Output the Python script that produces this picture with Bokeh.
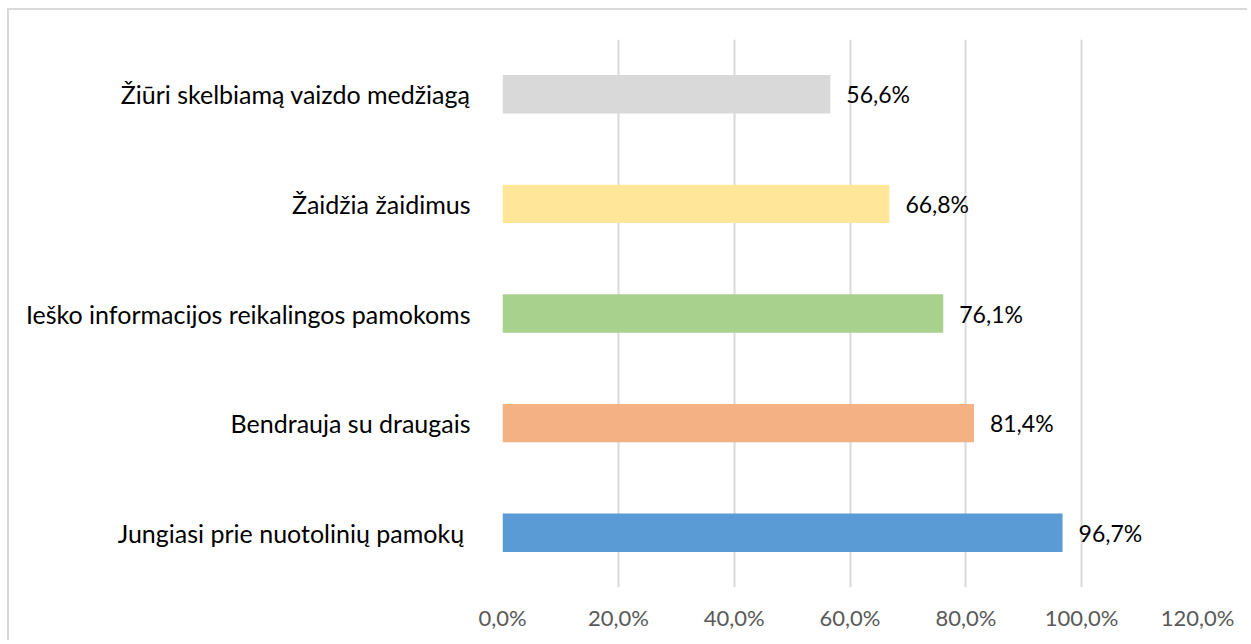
from bokeh.plotting import figure
from bokeh.models import ColumnDataSource, FixedTicker, LabelSet
from bokeh.core.properties import value
from bokeh.embed import file_html
from bokeh.resources import INLINE

categories = [
    "Jungiasi  prie nuotolinių pamokų",
    "Bendrauja su draugais",
    "Ieško informacijos reikalingos pamokoms",
    "Žaidžia žaidimus",
    "Žiūri skelbiamą vaizdo medžiagą",
]
values = [96.7, 81.4, 76.1, 66.8, 56.6]
colors = ["#5b9bd5", "#f4b183", "#a9d18e", "#ffe699", "#d9d9d9"]
tick_values = [0, 20, 40, 60, 80, 100, 120]
tick_labels = ["0,0%", "20,0%", "40,0%", "60,0%", "80,0%", "100,0%", "120,0%"]

labels = [f"{v:.1f}%".replace(".", ",") for v in values]
src = ColumnDataSource(dict(cat=categories, val=values, color=colors, lab=labels))

FONT = "Lato"

p = figure(
    y_range=categories, x_range=(0, 120),
    width=1240, height=632,
    output_backend="svg", toolbar_location=None,
    min_border_left=493, min_border_right=52,
    min_border_top=29, min_border_bottom=55,
)
p.hbar(y="cat", right="val", left=0, height=0.35, color="color", source=src, line_color=None)

p.add_layout(LabelSet(x="val", y="cat", text="lab", source=src, x_offset=16,
                      text_baseline="middle", text_font=value(FONT), text_font_size="23px",
                      text_color="#000000"))

p.outline_line_color = None
p.ygrid.grid_line_color = None
p.xgrid.grid_line_color = "#d9d9d9"
p.xgrid.grid_line_width = 2
p.xaxis.ticker = FixedTicker(ticks=tick_values)
p.xaxis.major_label_overrides = {t: l for t, l in zip(tick_values, tick_labels)}
p.xaxis.axis_line_color = None
p.xaxis.major_tick_line_color = None
p.xaxis.minor_tick_line_color = None
p.xaxis.major_label_standoff = 10
p.xaxis.major_label_text_font = FONT
p.xaxis.major_label_text_font_size = "22px"
p.xaxis.major_label_text_color = "#595959"

p.yaxis.axis_line_color = None
p.yaxis.major_tick_line_color = None
p.yaxis.major_label_standoff = 26
p.yaxis.major_label_text_font = FONT
p.yaxis.major_label_text_font_size = "25px"
p.yaxis.major_label_text_color = "#000000"

p.styles = {"border-top": "2px solid #d9d9d9", "border-left": "2px solid #d9d9d9",
            "margin-left": "7px", "margin-top": "8px"}

open("out.html", "w").write(file_html(p, INLINE))
